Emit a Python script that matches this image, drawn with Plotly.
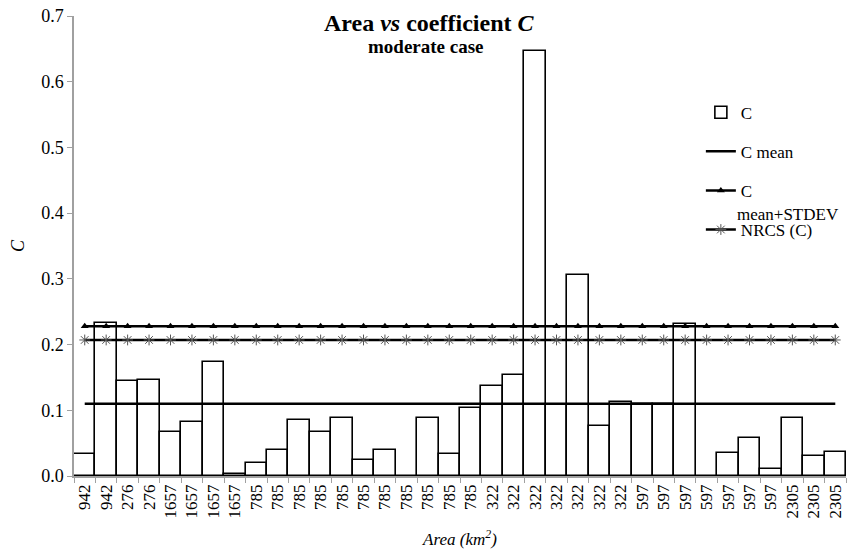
import plotly.graph_objects as go

labels = ["942", "942", "276", "276", "1657", "1657", "1657", "1657",
          "785", "785", "785", "785", "785", "785", "785", "785", "785", "785", "785",
          "322", "322", "322", "322", "322", "322", "322",
          "597", "597", "597", "597", "597", "597", "597",
          "2305", "2305", "2305"]
c_values = [0.033, 0.233, 0.145, 0.146, 0.067, 0.082, 0.173, 0.003,
            0.020, 0.039, 0.085, 0.067, 0.088, 0.025, 0.039, 0.0, 0.089, 0.033, 0.104,
            0.137, 0.154, 0.647, 0.108, 0.306, 0.076, 0.112,
            0.110, 0.110, 0.231, 0.0, 0.035, 0.058, 0.010,
            0.088, 0.031, 0.037]
c_mean = 0.110
c_mean_std = 0.228
nrcs_c = 0.207

xs = list(range(len(labels)))
serif = "Times New Roman, Liberation Serif, serif"

fig = go.Figure()
fig.add_trace(go.Bar(x=xs, y=c_values, name="C", marker=dict(color="white", line=dict(color="black", width=1.6)),
                     legendgroup="a"))
fig.add_trace(go.Scatter(x=xs, y=[c_mean] * len(xs), name="C mean", mode="lines",
                         line=dict(color="black", width=2.5), legendgroup="b"))
fig.add_trace(go.Scatter(x=xs, y=[c_mean_std] * len(xs), name="C", mode="lines+markers",
                         line=dict(color="black", width=2.5),
                         marker=dict(symbol="triangle-up", size=7, color="black"), legendgroup="c"))
fig.add_trace(go.Scatter(x=xs, y=[nrcs_c] * len(xs), name="NRCS (C)", mode="lines+markers",
                         line=dict(color="black", width=2.5),
                         marker=dict(symbol="asterisk-open", size=9, color="#555555",
                                     line=dict(color="#555555", width=1)), legendgroup="d"))

fig.update_layout(
    width=861, height=553,
    margin=dict(l=74, r=15, t=16, b=77),
    paper_bgcolor="white", plot_bgcolor="white",
    bargap=0,
    font=dict(family=serif, size=16, color="black"),
    showlegend=True,
    legend=dict(x=0.812, y=0.829, xanchor="left", yanchor="top", tracegroupgap=14,
                font=dict(family=serif, size=17), bgcolor="rgba(0,0,0,0)", itemwidth=30),
    annotations=[
        dict(text="<b>Area <i>vs</i> coefficient <i>C</i></b>", x=0.46, y=0.985, xref="paper", yref="paper",
             showarrow=False, font=dict(family=serif, size=24), xanchor="center", yanchor="middle"),
        dict(text="<b>moderate case</b>", x=0.456, y=0.933, xref="paper", yref="paper",
             showarrow=False, font=dict(family=serif, size=19), xanchor="center", yanchor="middle"),
        dict(text="mean+STDEV", x=(735 - 74) / 772, y=(476 - 215) / 460, xref="paper", yref="paper",
             showarrow=False, font=dict(family=serif, size=17), xanchor="left", yanchor="middle"),
    ],
)

fig.update_xaxes(
    range=[-0.5, len(xs) - 0.5], tickvals=xs, ticktext=labels, tickangle=-90,
    ticks="", showgrid=False, zeroline=False, automargin=False,
    showline=True, linecolor="#a0a0a0", linewidth=1.5,
    minor=dict(tick0=-0.5, dtick=1, ticks="outside", ticklen=5, tickcolor="#a0a0a0", showgrid=False),
    tickfont=dict(family=serif, size=17),
    title=dict(text="<i>Area (km<sup>2</sup>)</i>", font=dict(family=serif, size=17), standoff=16),
)
fig.update_yaxes(
    range=[0, 0.7], dtick=0.1, tickformat=".1f", ticks="outside", ticklen=5, tickcolor="#a0a0a0",
    showgrid=False, zeroline=False, showline=True, linecolor="#a0a0a0", linewidth=1.5, automargin=False,
    tickfont=dict(family=serif, size=18),
    title=dict(text="<i>C</i>", font=dict(family=serif, size=18), standoff=12),
)

fig.write_html("out.html")
